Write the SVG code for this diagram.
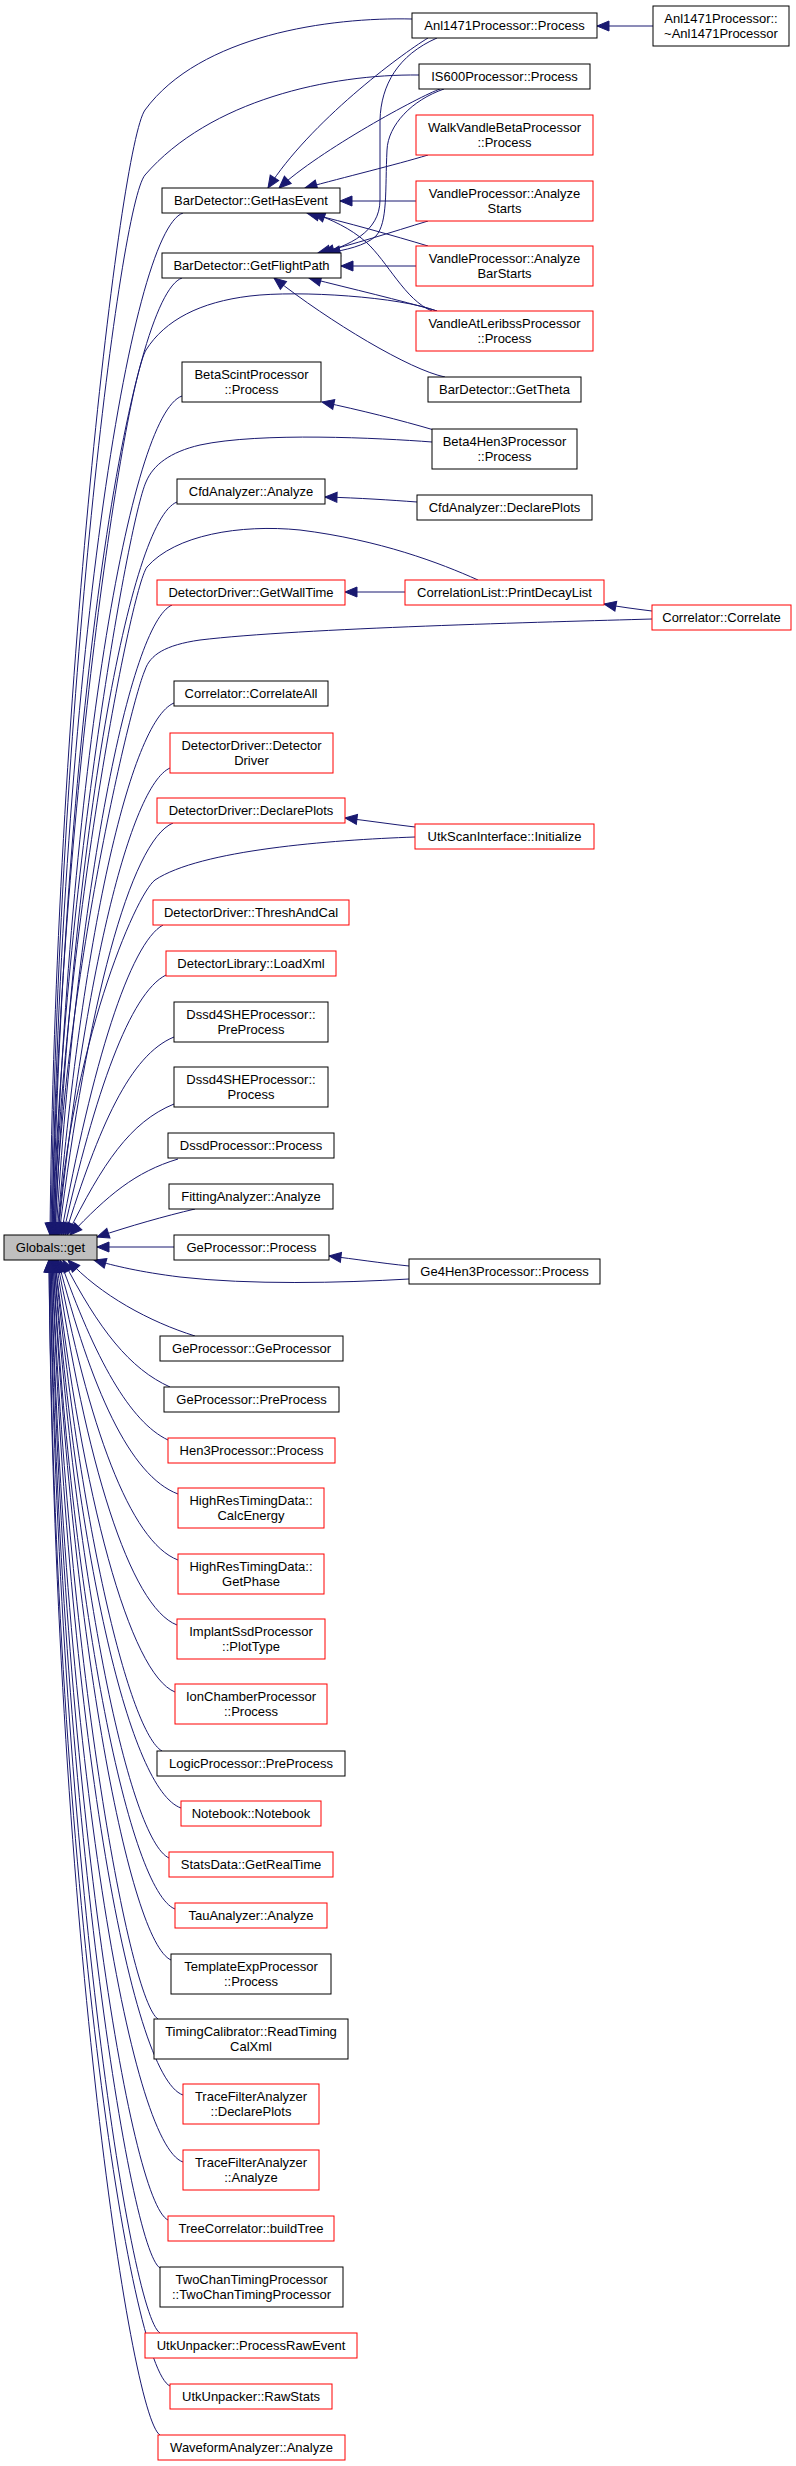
<svg xmlns="http://www.w3.org/2000/svg" width="796" height="2466" viewBox="0 0 796 2466">
<style>
rect{fill:#fff;stroke:#000;stroke-width:1}
.r rect{stroke:#f00}
.g rect{fill:#bfbfbf}
text{font-family:"Liberation Sans",Arial,Helvetica,sans-serif;font-size:13px;text-anchor:middle;fill:#000}
#edges path{fill:none;stroke:#191970;stroke-width:1;marker-end:url(#a)}
</style>
<defs><marker id="a" markerUnits="userSpaceOnUse" markerWidth="15" markerHeight="13" refX="12" refY="5.5" orient="auto" viewBox="-1 0 15 11" overflow="visible"><path d="M0,0.5 L12,5.5 L0,10.5 z" fill="#191970" stroke="#191970" stroke-width="1"/></marker></defs>
<rect x="0" y="0" width="796" height="2466" style="fill:#fff;stroke:none"/>
<g id="edges">
<path d="M428,38 C400,55 310,122 268,188"/>
<path d="M440,89 C420,96 320,150 279,188"/>
<path d="M428,155 C395,165 345,177 305,188"/>
<path d="M416,201 L340,201"/>
<path d="M428,246 C395,236 345,222 307,213"/>
<path d="M432,311 C405,300 388,262 366,242 C350,228 332,220 313,213"/>
<path d="M437,38 C398,55 381,85 380,120 L380,200 C380,232 348,246 322,253"/>
<path d="M444,89 C412,100 388,125 387,150 C385,190 388,222 376,236 C365,246 345,250 328,253"/>
<path d="M428,221 C392,232 352,245 318,253"/>
<path d="M416,266 L341,266"/>
<path d="M437,311 C400,300 352,289 309,278"/>
<path d="M445,377 C410,370 330,322 274,278"/>
<path d="M434,430 C400,420 360,410 322,402"/>
<path d="M417,502 C390,500 360,498 325,497"/>
<path d="M405,592 L345,592"/>
<path d="M415,827 C390,824 370,821 345,818"/>
<path d="M409,1266 C380,1263 355,1259 329,1256"/>
<path d="M653,26 L597,26"/>
<path d="M652,611 C636,609 620,607 604,604"/>
<path d="M412,19 C330,17 200,35 145,110 C120,145 55,700 50,1235"/>
<path d="M419,75 C330,74 210,100 145,175 C120,205 58,700 51,1235"/>
<path d="M437,311 C400,297 300,290 250,296 C200,302 165,320 146,350 C126,385 60,800 52,1235"/>
<path d="M432,442 C380,438 260,432 200,445 C170,452 153,465 146,482 C128,522 62,900 53,1235"/>
<path d="M478,580 C440,563 380,540 300,530 C240,524 175,535 147,567 C130,590 62,950 54,1235"/>
<path d="M652,619 C550,622 300,628 200,640 C165,645 150,655 145,670 C128,710 62,1000 55,1235"/>
<path d="M415,837 C330,840 200,850 155,880 C135,895 70,1050 58,1235"/>
<path d="M409,1279 C340,1283 250,1285 180,1277 C140,1272 115,1266 94,1260"/>
<path d="M183,213 C130,231 61,673 52,1235"/>
<path d="M182,278 C130,296 64,709 53,1235"/>
<path d="M182,396 C130,414 69,774 54,1235"/>
<path d="M177,502 C130,520 73,832 55,1235"/>
<path d="M172,605 C130,623 77,889 56,1235"/>
<path d="M174,703 C130,721 81,942 57,1235"/>
<path d="M170,768 C130,786 84,978 58,1235"/>
<path d="M173,823 C130,841 87,1008 59,1235"/>
<path d="M163,925 C130,943 92,1064 61,1235"/>
<path d="M166,975 C130,993 95,1092 63,1235"/>
<path d="M174,1037 C130,1055 99,1126 65,1235"/>
<path d="M174,1104 C130,1122 103,1163 67,1235"/>
<path d="M178,1159 C135,1172 108,1195 70,1235"/>
<path d="M195,1209 C165,1216 130,1226 97,1237"/>
<path d="M174,1247 L97,1247"/>
<path d="M195,1336 C150,1322 100,1295 68,1260"/>
<path d="M170,1387 C130,1369 99,1330 63,1260"/>
<path d="M168,1440 C130,1422 95,1359 60,1260"/>
<path d="M178,1494 C130,1476 91,1389 58,1260"/>
<path d="M178,1560 C130,1542 88,1425 57,1260"/>
<path d="M177,1625 C130,1607 85,1461 56,1260"/>
<path d="M175,1692 C130,1674 82,1498 55,1260"/>
<path d="M162,1751 C130,1733 80,1530 55,1260"/>
<path d="M181,1808 C130,1790 78,1561 54,1260"/>
<path d="M169,1858 C130,1840 76,1588 54,1260"/>
<path d="M175,1909 C130,1891 73,1617 53,1260"/>
<path d="M171,1960 C130,1942 72,1644 53,1260"/>
<path d="M158,2019 C130,2001 69,1677 52,1260"/>
<path d="M183,2095 C130,2077 67,1719 52,1260"/>
<path d="M183,2162 C130,2144 64,1756 51,1260"/>
<path d="M168,2220 C130,2202 62,1788 51,1260"/>
<path d="M160,2268 C130,2250 60,1814 50,1260"/>
<path d="M160,2333 C130,2315 58,1850 50,1260"/>
<path d="M170,2386 C130,2368 55,1879 49,1260"/>
<path d="M160,2435 C130,2417 54,1906 49,1260"/>
</g>
<g id="n0" class="g"><rect x="4" y="1235" width="93" height="25"/><text x="50.5" y="1252">Globals::get</text></g>
<g id="n1"><rect x="162" y="188" width="178" height="25"/><text x="251" y="205">BarDetector::GetHasEvent</text></g>
<g id="n2"><rect x="162" y="253" width="179" height="25"/><text x="251.5" y="270">BarDetector::GetFlightPath</text></g>
<g id="n3"><rect x="182" y="362" width="139" height="40"/><text x="251.5" y="378.5">BetaScintProcessor</text><text x="251.5" y="393.5">::Process</text></g>
<g id="n4"><rect x="177" y="479" width="148" height="25"/><text x="251" y="496">CfdAnalyzer::Analyze</text></g>
<g id="n5" class="r"><rect x="157" y="580" width="188" height="25"/><text x="251" y="597">DetectorDriver::GetWallTime</text></g>
<g id="n6"><rect x="174" y="681" width="154" height="25"/><text x="251" y="698">Correlator::CorrelateAll</text></g>
<g id="n7" class="r"><rect x="170" y="733" width="163" height="40"/><text x="251.5" y="749.5">DetectorDriver::Detector</text><text x="251.5" y="764.5">Driver</text></g>
<g id="n8" class="r"><rect x="157" y="798" width="188" height="25"/><text x="251" y="815">DetectorDriver::DeclarePlots</text></g>
<g id="n9" class="r"><rect x="153" y="900" width="196" height="25"/><text x="251" y="917">DetectorDriver::ThreshAndCal</text></g>
<g id="n10" class="r"><rect x="166" y="951" width="170" height="25"/><text x="251" y="968">DetectorLibrary::LoadXml</text></g>
<g id="n11"><rect x="174" y="1002" width="154" height="40"/><text x="251" y="1018.5">Dssd4SHEProcessor::</text><text x="251" y="1033.5">PreProcess</text></g>
<g id="n12"><rect x="174" y="1067" width="154" height="40"/><text x="251" y="1083.5">Dssd4SHEProcessor::</text><text x="251" y="1098.5">Process</text></g>
<g id="n13"><rect x="168" y="1133" width="166" height="25"/><text x="251" y="1150">DssdProcessor::Process</text></g>
<g id="n14"><rect x="169" y="1184" width="164" height="25"/><text x="251" y="1201">FittingAnalyzer::Analyze</text></g>
<g id="n15"><rect x="174" y="1235" width="155" height="25"/><text x="251.5" y="1252">GeProcessor::Process</text></g>
<g id="n16"><rect x="160" y="1336" width="183" height="25"/><text x="251.5" y="1353">GeProcessor::GeProcessor</text></g>
<g id="n17"><rect x="164" y="1387" width="175" height="25"/><text x="251.5" y="1404">GeProcessor::PreProcess</text></g>
<g id="n18" class="r"><rect x="168" y="1438" width="167" height="25"/><text x="251.5" y="1455">Hen3Processor::Process</text></g>
<g id="n19" class="r"><rect x="178" y="1488" width="146" height="40"/><text x="251" y="1504.5">HighResTimingData::</text><text x="251" y="1519.5">CalcEnergy</text></g>
<g id="n20" class="r"><rect x="178" y="1554" width="146" height="40"/><text x="251" y="1570.5">HighResTimingData::</text><text x="251" y="1585.5">GetPhase</text></g>
<g id="n21" class="r"><rect x="177" y="1619" width="148" height="40"/><text x="251" y="1635.5">ImplantSsdProcessor</text><text x="251" y="1650.5">::PlotType</text></g>
<g id="n22" class="r"><rect x="175" y="1684" width="152" height="40"/><text x="251" y="1700.5">IonChamberProcessor</text><text x="251" y="1715.5">::Process</text></g>
<g id="n23"><rect x="157" y="1751" width="188" height="25"/><text x="251" y="1768">LogicProcessor::PreProcess</text></g>
<g id="n24" class="r"><rect x="181" y="1801" width="140" height="25"/><text x="251" y="1818">Notebook::Notebook</text></g>
<g id="n25" class="r"><rect x="169" y="1852" width="164" height="25"/><text x="251" y="1869">StatsData::GetRealTime</text></g>
<g id="n26" class="r"><rect x="175" y="1903" width="152" height="25"/><text x="251" y="1920">TauAnalyzer::Analyze</text></g>
<g id="n27"><rect x="171" y="1954" width="160" height="40"/><text x="251" y="1970.5">TemplateExpProcessor</text><text x="251" y="1985.5">::Process</text></g>
<g id="n28"><rect x="154" y="2019" width="194" height="40"/><text x="251" y="2035.5">TimingCalibrator::ReadTiming</text><text x="251" y="2050.5">CalXml</text></g>
<g id="n29" class="r"><rect x="183" y="2084" width="136" height="40"/><text x="251" y="2100.5">TraceFilterAnalyzer</text><text x="251" y="2115.5">::DeclarePlots</text></g>
<g id="n30" class="r"><rect x="183" y="2150" width="136" height="40"/><text x="251" y="2166.5">TraceFilterAnalyzer</text><text x="251" y="2181.5">::Analyze</text></g>
<g id="n31" class="r"><rect x="168" y="2216" width="166" height="25"/><text x="251" y="2233">TreeCorrelator::buildTree</text></g>
<g id="n32"><rect x="160" y="2267" width="183" height="40"/><text x="251.5" y="2283.5">TwoChanTimingProcessor</text><text x="251.5" y="2298.5">::TwoChanTimingProcessor</text></g>
<g id="n33" class="r"><rect x="145" y="2333" width="212" height="25"/><text x="251" y="2350">UtkUnpacker::ProcessRawEvent</text></g>
<g id="n34" class="r"><rect x="170" y="2384" width="162" height="25"/><text x="251" y="2401">UtkUnpacker::RawStats</text></g>
<g id="n35" class="r"><rect x="158" y="2435" width="187" height="25"/><text x="251.5" y="2452">WaveformAnalyzer::Analyze</text></g>
<g id="m1"><rect x="412" y="13" width="185" height="25"/><text x="504.5" y="30">Anl1471Processor::Process</text></g>
<g id="m2"><rect x="419" y="64" width="171" height="25"/><text x="504.5" y="81">IS600Processor::Process</text></g>
<g id="m3" class="r"><rect x="416" y="115" width="177" height="40"/><text x="504.5" y="131.5">WalkVandleBetaProcessor</text><text x="504.5" y="146.5">::Process</text></g>
<g id="m4" class="r"><rect x="416" y="181" width="177" height="40"/><text x="504.5" y="197.5">VandleProcessor::Analyze</text><text x="504.5" y="212.5">Starts</text></g>
<g id="m5" class="r"><rect x="416" y="246" width="177" height="40"/><text x="504.5" y="262.5">VandleProcessor::Analyze</text><text x="504.5" y="277.5">BarStarts</text></g>
<g id="m6" class="r"><rect x="416" y="311" width="177" height="40"/><text x="504.5" y="327.5">VandleAtLeribssProcessor</text><text x="504.5" y="342.5">::Process</text></g>
<g id="m7"><rect x="428" y="377" width="153" height="25"/><text x="504.5" y="394">BarDetector::GetTheta</text></g>
<g id="m8"><rect x="432" y="429" width="145" height="40"/><text x="504.5" y="445.5">Beta4Hen3Processor</text><text x="504.5" y="460.5">::Process</text></g>
<g id="m9"><rect x="417" y="495" width="175" height="25"/><text x="504.5" y="512">CfdAnalyzer::DeclarePlots</text></g>
<g id="m10" class="r"><rect x="405" y="580" width="199" height="25"/><text x="504.5" y="597">CorrelationList::PrintDecayList</text></g>
<g id="m11" class="r"><rect x="415" y="824" width="179" height="25"/><text x="504.5" y="841">UtkScanInterface::Initialize</text></g>
<g id="m12"><rect x="409" y="1259" width="191" height="25"/><text x="504.5" y="1276">Ge4Hen3Processor::Process</text></g>
<g id="k1"><rect x="653" y="6" width="136" height="40"/><text x="721" y="22.5">Anl1471Processor::</text><text x="721" y="37.5">~Anl1471Processor</text></g>
<g id="k2" class="r"><rect x="652" y="605" width="139" height="25"/><text x="721.5" y="622">Correlator::Correlate</text></g>
</svg>
